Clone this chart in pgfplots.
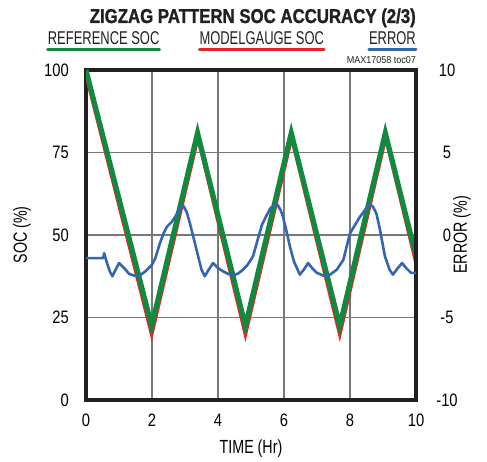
\documentclass[border=0pt]{standalone}
\usepackage{pgfplots}
\pgfplotsset{compat=1.18}
\usepackage{fontspec}
\setmainfont{Liberation Sans}
\newfontfamily\tickfont{Liberation Sans}[FakeStretch=0.82]
\newfontfamily\labfont{Liberation Sans}[FakeStretch=0.75]
\newfontfamily\legfont{Liberation Sans}[FakeStretch=0.70]
\newfontfamily\titfont{Liberation Sans}[FakeStretch=0.84, BoldFeatures={FakeBold=1.2}]
\newfontfamily\notefont{Liberation Sans}[FakeStretch=0.9]
\definecolor{refgreen}{RGB}{16,138,62}
\definecolor{mgred}{RGB}{232,34,40}
\definecolor{errblue}{RGB}{52,100,178}
\definecolor{gridgray}{RGB}{120,120,120}
\definecolor{framec}{RGB}{35,31,32}
\begin{document}
\begin{tikzpicture}
\path[use as bounding box] (-86pt,-62pt) rectangle (401pt,400pt);
\begin{axis}[
  at={(0pt,0pt)}, anchor=south west,
  scale only axis, width=330pt, height=330pt,
  xmin=0, xmax=10, ymin=0, ymax=100,
  xtick={0,2,4,6,8,10}, xticklabels={0,2,4,6,8,10},
  ytick={0,25,50,75,100}, yticklabels={0,25,50,75,100},
  grid=major,
  major grid style={gridgray, line width=1.3pt},
  axis line style={framec, line width=3.3pt},
  major tick length=0pt,
  xticklabel style={font=\tickfont\fontsize{18}{18}\selectfont, anchor=north, inner sep=0pt, yshift=-14pt},
  yticklabel style={font=\tickfont\fontsize{18}{18}\selectfont, anchor=east, inner sep=0pt, xshift=-17pt},
  xlabel={TIME (Hr)}, ylabel={SOC (\%)},
  xlabel style={at={(axis description cs:0.5,-0.148)}, anchor=center, inner sep=0pt, font=\labfont\fontsize{19}{19}\selectfont},
  ylabel style={at={(axis description cs:-0.194,0.5)}, anchor=center, inner sep=0pt, rotate=0, font=\labfont\fontsize{19}{19}\selectfont},
]
\addplot[mgred, line width=4.2pt, line join=miter, miter limit=20] coordinates {
(0,99) (1.99,20.3) (3.39,80) (4.83,20.3) (6.23,80) (7.69,20.3) (9.08,80) (10,42)};
\addplot[refgreen, line width=5pt, line join=miter, miter limit=20] coordinates {
(0,100) (1.99,22.5) (3.38,81) (4.83,22.5) (6.22,81) (7.69,22.5) (9.07,81) (10,43.7)};
\end{axis}
\begin{axis}[
  at={(0pt,0pt)}, anchor=south west,
  scale only axis, width=330pt, height=330pt,
  xmin=0, xmax=10, ymin=-10, ymax=10,
  axis x line=none, axis y line*=right,
  ytick={-10,-5,0,5,10}, yticklabels={-10,-5,0,5,10},
  major tick length=0pt,
  axis line style={framec, line width=3.3pt},
  yticklabel style={font=\tickfont\fontsize{18}{18}\selectfont, anchor=center, inner sep=0pt, xshift=31pt},
  ylabel={ERROR (\%)},
  ylabel style={at={(axis description cs:1.139,0.5)}, anchor=center, inner sep=0pt, rotate=0, font=\labfont\fontsize{19}{19}\selectfont},
]
\addplot[errblue, line width=2.6pt, line join=round] coordinates {
(0,-1.4) (0.52,-1.4) (0.55,-1.1) (0.62,-1.6) (0.72,-2.2) (0.8,-2.5) (0.9,-2.1) (1.0,-1.7) (1.1,-1.9) (1.2,-2.1) (1.3,-2.35) (1.45,-2.45) (1.6,-2.5) (1.8,-2.2) (2.0,-1.8) (2.1,-1.4) (2.24,-0.5) (2.35,0.1) (2.45,0.5) (2.6,0.8) (2.7,1.1) (2.85,1.6) (2.94,1.8) (3.05,1.4) (3.15,0.7) (3.25,-0.1) (3.4,-1.3) (3.5,-2.1) (3.6,-2.5) (3.72,-2.1) (3.85,-1.7) (4.0,-2.0) (4.15,-2.2) (4.3,-2.35) (4.45,-2.45) (4.6,-2.35) (4.76,-2.1) (4.9,-1.8) (5.06,-1.3) (5.2,-0.3) (5.33,0.6) (5.45,1.1) (5.58,1.6) (5.7,1.8) (5.8,1.85) (5.9,1.5) (5.97,1.1) (6.08,0.2) (6.18,-0.7) (6.3,-1.6) (6.48,-2.4) (6.6,-2.1) (6.73,-1.7) (6.85,-2.0) (7.0,-2.3) (7.24,-2.5) (7.4,-2.4) (7.6,-2.1) (7.8,-1.5) (7.9,-0.7) (8.0,0.1) (8.15,0.6) (8.3,1.1) (8.45,1.5) (8.6,1.9) (8.7,1.7) (8.8,1.3) (8.9,0.4) (9.06,-1.3) (9.2,-2.1) (9.3,-2.4) (9.45,-2.0) (9.58,-1.7) (9.7,-2.0) (9.85,-2.3) (10,-2.3)};
\end{axis}
\node[anchor=base east, inner sep=0pt, font=\titfont\bfseries\fontsize{20}{20}\selectfont, text=framec] at (330pt,377pt) {ZIGZAG PATTERN SOC ACCURACY (2/3)};
\node[anchor=base west, inner sep=0pt, font=\legfont\fontsize{18.5}{18.5}\selectfont, text=framec] (l1) at (-38.3pt,355pt) {REFERENCE SOC};
\node[anchor=base west, inner sep=0pt, font=\legfont\fontsize{18.5}{18.5}\selectfont, text=framec] (l2) at (113.3pt,355pt) {MODELGAUGE SOC};
\node[anchor=base east, inner sep=0pt, font=\legfont\fontsize{18.5}{18.5}\selectfont, text=framec] (l3) at (330pt,355pt) {ERROR};
\draw[refgreen, line width=3pt, line cap=round] ([yshift=-4.5pt]l1.base west) -- ([yshift=-4.5pt]l1.base east);
\draw[mgred, line width=3pt, line cap=round] ([yshift=-4.5pt]l2.base west) -- ([yshift=-4.5pt]l2.base east);
\draw[errblue, line width=3pt, line cap=round] ([yshift=-4.5pt]l3.base west) -- ([yshift=-4.5pt]l3.base east);
\node[anchor=base east, inner sep=0pt, font=\notefont\fontsize{10}{10}\selectfont, text=framec] at (330pt,336pt) {MAX17058 toc07};
\end{tikzpicture}
\end{document}
